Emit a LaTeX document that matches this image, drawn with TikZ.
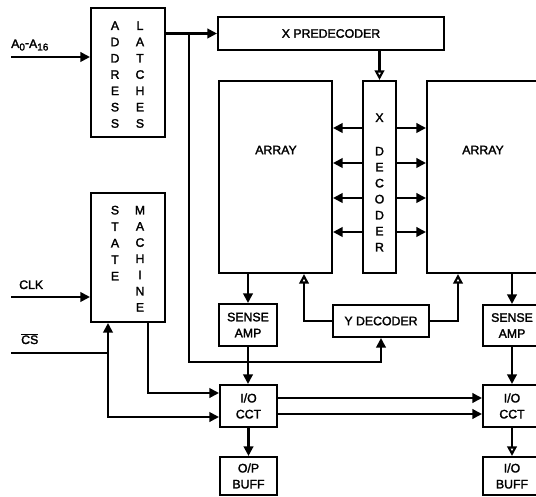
\documentclass[tikz,border=0pt]{standalone}
\usepackage{fontspec}
\setmainfont{Liberation Sans}[BoldFont={Liberation Sans},BoldFeatures={FakeBold=2}]
\usetikzlibrary{arrows.meta}
\begin{document}
\begin{tikzpicture}[x=1pt,y=-1pt,
  lw/.style={line width=2.1pt},
  blk/.style={draw,lw,inner sep=0pt,align=center,font=\fontsize{12.3}{16}\selectfont\bfseries},
  lab/.style={font=\fontsize{12.3}{16}\selectfont\bfseries,inner sep=0pt},
  ltr/.style={font=\fontsize{12.3}{14}\selectfont\bfseries,inner sep=0pt,text height=8.8pt,text depth=0pt},
  arr/.style={lw,-{Triangle[length=9.5pt,width=9.5pt]}},
  arrO/.style={lw,-{Triangle[open,fill=white,length=9.5pt,width=9.5pt]}},
  wire/.style={lw}]
\useasboundingbox (0,0) rectangle (536,497);
\clip (0,0) rectangle (536,497);
% blocks
\node[blk,minimum width=74pt,minimum height=129pt] (lat) at (128,72.5) {};
\node[blk,minimum width=74pt,minimum height=129pt] (sm) at (128,257.5) {};
\node[blk,minimum width=226pt,minimum height=33pt] (xpre) at (331,33.5) {X PREDECODER};
\node[blk,minimum width=113pt,minimum height=192pt] (arrL) at (275.5,177) {};
\node[blk,minimum width=33pt,minimum height=192pt] (xdec) at (379.5,177) {};
\node[blk,minimum width=113pt,minimum height=192pt] (arrR) at (483.5,177) {};
\node[lab] (tarrL) at (276,150) {ARRAY};
\node[lab] (tarrR) at (483,150) {ARRAY};
\node[blk,minimum width=58pt,minimum height=42pt] (saL) at (248,325) {SENSE\\AMP};
\node[blk,minimum width=96pt,minimum height=32pt] (ydec) at (381,321) {Y DECODER};
\node[blk,minimum width=58pt,minimum height=41pt] (saR) at (512,325.5) {SENSE\\AMP};
\node[blk,minimum width=57pt,minimum height=42pt] (ioL) at (248.5,406) {I/O\\CCT};
\node[blk,minimum width=58pt,minimum height=42pt] (ioR) at (512,406) {I/O\\CCT};
\node[blk,minimum width=57pt,minimum height=38pt] (opL) at (248.5,476) {O/P\\BUFF};
\node[blk,minimum width=58pt,minimum height=38pt] (bufR) at (512,476) {I/O\\BUFF};
% vertical letters
\foreach \c [count=\i from 0] in {A,D,D,R,E,S,S}
  \node[ltr] (ad\i) at (115,25.5+16.3*\i) {\c};
\foreach \c [count=\i from 0] in {L,A,T,C,H,E,S}
  \node[ltr] (la\i) at (140,25.5+16.3*\i) {\c};
\foreach \c [count=\i from 0] in {S,T,A,T,E}
  \node[ltr] (st\i) at (115,210+16.5*\i) {\c};
\foreach \c [count=\i from 0] in {M,A,C,H,I,N,E}
  \node[ltr] (ma\i) at (140,210+16.2*\i) {\c};
\node[ltr] (xd) at (379.5,117.5) {X};
\foreach \c [count=\i from 0] in {D,E,C,O,D,E,R}
  \node[ltr] (de\i) at (379.5,151+16*\i) {\c};
% input labels
\node[lab,anchor=base west] (tain) at (11,48) {A\raisebox{-2.5pt}{\fontsize{10}{10}\selectfont\bfseries 0}\raisebox{1pt}{-}A\raisebox{-2.5pt}{\fontsize{10}{10}\selectfont\bfseries 16}};
\node[lab,anchor=base west] (tclk) at (19,289) {CLK};
\node[lab,anchor=base west] (tcs) at (21,344) {$\overline{\mbox{\bfseries CS}}$};
% coordinates
\coordinate (ain) at (11,57);
\coordinate (clk) at (11,297);
\coordinate (cs) at (11,353);
\coordinate (csj) at (108,353);
\coordinate (csd) at (108,417);
\coordinate (smo) at (148,322);
\coordinate (smd) at (148,393);
\coordinate (br) at (189,33.5);
\coordinate (bus) at (189,362);
\coordinate (ylc) at (304,321);
\coordinate (yrc) at (458,321);
% connectors
\draw[arr] (ain) -- (ain -| lat.west);
\draw[arr] (lat.east |- xpre.west) -- (xpre.west);
\draw[arr] (br) -- (bus) -| (ydec.south);
\draw[arrO] (xpre.south -| xdec.north) -- (xdec.north);
\foreach \yy in {128,163,198,232}{
  \coordinate (h) at (0,\yy);
  \draw[arr] (xdec.west |- h) -- (arrL.east |- h);
  \draw[arr] (xdec.east |- h) -- (arrR.west |- h);
}
\draw[arr] (saL.north |- arrL.south) -- (saL.north);
\draw[arrO] (ydec.west) -- (ylc) -- (ylc |- arrL.south);
\draw[arrO] (ydec.east) -- (yrc) -- (yrc |- arrR.south);
\draw[arr] (saR.north |- arrR.south) -- (saR.north);
\draw[arr] (saL.south) -- (saL.south |- ioL.north);
\draw[arr] (ioL.south) -- (opL.north);
\draw[arr] (saR.south) -- (ioR.north);
\draw[arrO] (ioR.south) -- (bufR.north);
\coordinate (b1) at (0,398);
\coordinate (b2) at (0,414);
\draw[arr] (ioL.east |- b1) -- (ioR.west |- b1);
\draw[arr] (ioL.east |- b2) -- (ioR.west |- b2);
\draw[arr] (clk) -- (clk -| sm.west);
\draw[wire] (cs) -- (csj);
\draw[arr] (csj) -- (csj |- sm.south);
\draw[arr] (csj) -- (csd) -- (csd -| ioL.west);
\draw[arr] (smo) -- (smd) -- (smd -| ioL.west);
\end{tikzpicture}
\end{document}
